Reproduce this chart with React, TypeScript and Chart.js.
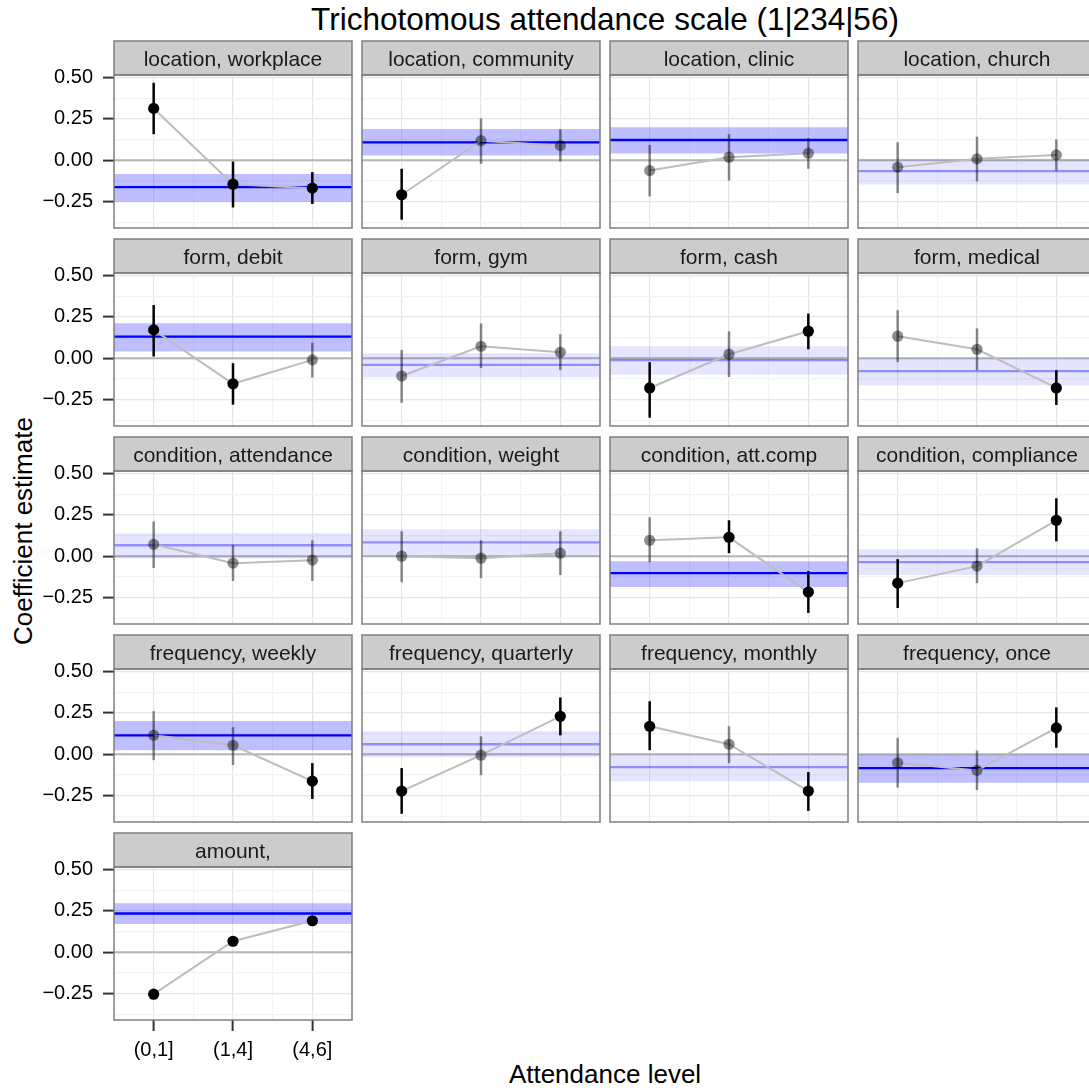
import React, { useEffect, useRef } from "react";
import { Chart, registerables } from "chart.js";

Chart.register(...registerables);

const FONT = '"Liberation Sans", Arial, Helvetica, sans-serif';

const TITLE = "Trichotomous attendance scale (1|234|56)";
const X_TITLE = "Attendance level";
const Y_TITLE = "Coefficient estimate";

const PANEL_LABELS = [
  "location, workplace", "location, community", "location, clinic", "location, church",
  "form, debit", "form, gym", "form, cash", "form, medical",
  "condition, attendance", "condition, weight", "condition, att.comp", "condition, compliance",
  "frequency, weekly", "frequency, quarterly", "frequency, monthly", "frequency, once",
  "amount,",
];
const LEVELS = ["(0,1]", "(1,4]", "(4,6]"];
const LEVEL_POS = [1, 2, 3];

const ESTIMATE = [
  [0.313, -0.145, -0.169],
  [-0.209, 0.118, 0.088],
  [-0.063, 0.018, 0.042],
  [-0.042, 0.008, 0.032],
  [0.171, -0.155, -0.010],
  [-0.108, 0.072, 0.036],
  [-0.180, 0.024, 0.163],
  [0.133, 0.054, -0.180],
  [0.072, -0.042, -0.024],
  [0.000, -0.012, 0.018],
  [0.096, 0.114, -0.217],
  [-0.163, -0.060, 0.217],
  [0.114, 0.054, -0.163],
  [-0.223, -0.006, 0.229],
  [0.169, 0.060, -0.223],
  [-0.052, -0.098, 0.159],
  [-0.254, 0.066, 0.190],
];
const CI_LOW = [
  [0.157, -0.286, -0.265],
  [-0.360, -0.022, -0.008],
  [-0.219, -0.123, -0.052],
  [-0.199, -0.129, -0.063],
  [0.010, -0.281, -0.117],
  [-0.270, -0.060, -0.072],
  [-0.360, -0.114, 0.054],
  [-0.024, -0.072, -0.283],
  [-0.072, -0.150, -0.150],
  [-0.157, -0.133, -0.114],
  [-0.036, 0.018, -0.343],
  [-0.313, -0.163, 0.090],
  [-0.036, -0.066, -0.271],
  [-0.360, -0.127, 0.114],
  [0.024, -0.054, -0.343],
  [-0.202, -0.217, 0.039],
  [-0.262, 0.058, 0.182],
];
const CI_HIGH = [
  [0.468, -0.008, -0.072],
  [-0.052, 0.253, 0.187],
  [0.092, 0.158, 0.134],
  [0.108, 0.142, 0.126],
  [0.321, -0.030, 0.094],
  [0.050, 0.210, 0.145],
  [-0.024, 0.163, 0.270],
  [0.290, 0.180, -0.072],
  [0.210, 0.066, 0.096],
  [0.150, 0.096, 0.150],
  [0.235, 0.217, -0.090],
  [-0.018, 0.048, 0.350],
  [0.260, 0.163, -0.054],
  [-0.084, 0.108, 0.343],
  [0.320, 0.169, -0.108],
  [0.099, 0.022, 0.283],
  [-0.246, 0.074, 0.198],
];
const SIGNIFICANT = [
  [1, 1, 1], [1, 0, 0], [0, 0, 0], [0, 0, 0],
  [1, 1, 0], [0, 0, 0], [1, 0, 1], [0, 0, 1],
  [0, 0, 0], [0, 0, 0], [0, 1, 1], [1, 0, 1],
  [0, 0, 1], [1, 0, 1], [1, 0, 1], [0, 0, 1],
  [1, 1, 1],
];
const POOLED = [-0.163, 0.108, 0.122, -0.066, 0.130, -0.040, -0.012, -0.078, 0.066, 0.084, -0.102, -0.036, 0.114, 0.060, -0.078, -0.084, 0.234];
const POOLED_LOW = [-0.251, 0.028, 0.040, -0.147, 0.040, -0.115, -0.100, -0.163, -0.012, 0.000, -0.187, -0.114, 0.024, -0.018, -0.163, -0.173, 0.170];
const POOLED_HIGH = [-0.084, 0.189, 0.199, 0.008, 0.211, 0.030, 0.072, 0.000, 0.138, 0.163, -0.030, 0.042, 0.200, 0.139, 0.000, -0.004, 0.296];
const POOLED_SIG = [1, 1, 1, 0, 1, 0, 0, 0, 0, 0, 1, 0, 1, 0, 0, 1, 1];

const Y_MAJOR = [-0.25, 0, 0.25, 0.5];
const Y_MINOR = [-0.375, -0.125, 0.125, 0.375];
const X_MINOR = [1.5, 2.5];
const X_MIN = 0.5;
const X_MAX = 3.5;
const Y_MIN = -0.41;
const Y_MAX = 0.515;

// layout
const NCOL = 4;
const PANEL_W = 238;
const PANEL_H = 153;
const STRIP_H = 34;
const PANEL_X0 = 114;
const PITCH_X = 248;
const PANEL_Y0 = 75;
const PITCH_Y = 198;
const M = 2;
const Y_AXIS_W = 84;
const X_AXIS_H = 50;
const TICK_LEN = 11;

const GRID_MAJOR = "#e6e6e6";
const GRID_MINOR = "#f3f3f3";
const BORDER = "#7f7f7f";
const STRIP_FILL = "#cccccc";
const TICK_COLOR = "#333333";

const near = (a: number, b: number) => Math.abs(a - b) < 1e-9;
const isMajorY = (v: any) => typeof v === "number" && Y_MAJOR.some((m) => near(m, v));
const isMajorX = (v: any) => typeof v === "number" && LEVEL_POS.some((m) => near(m, v));
const fmtY = (v: number) => (v < 0 ? "\u2212" + Math.abs(v).toFixed(2) : v.toFixed(2));

const zeroPad = (s: any) => {
  s.paddingTop = 0;
  s.paddingBottom = 0;
  s.paddingLeft = 0;
  s.paddingRight = 0;
};

function FacetPanel({ idx }: { idx: number }) {
  const ref = useRef<HTMLCanvasElement | null>(null);
  const col = idx % NCOL;
  const row = Math.floor(idx / NCOL);
  const showY = col === 0;
  const showX = idx === PANEL_LABELS.length - 1;
  const panelLeft = PANEL_X0 + col * PITCH_X;
  const panelTop = PANEL_Y0 + row * PITCH_Y;
  const leftSpace = showY ? Y_AXIS_W : M;
  const bottomSpace = showX ? X_AXIS_H : M;
  const cw = leftSpace + PANEL_W + M;
  const ch = M + STRIP_H + PANEL_H + bottomSpace;
  const cl = panelLeft - leftSpace;
  const ct = panelTop - STRIP_H - M;

  useEffect(() => {
    const canvas = ref.current;
    if (!canvas) return;
    const est = ESTIMATE[idx];
    const lo = CI_LOW[idx];
    const hi = CI_HIGH[idx];
    const sig = SIGNIFICANT[idx];
    const pts = LEVEL_POS.map((x, j) => ({ x, y: est[j] }));
    const ptColor = sig.map((s) => (s ? "#000000" : "rgba(0,0,0,0.45)"));
    const pSig = POOLED_SIG[idx] === 1;

    const datasets: any[] = [];
    datasets.push({
      data: pts, showLine: false, pointRadius: 5.6, pointBackgroundColor: ptColor,
      pointBorderWidth: 0, pointBorderColor: "rgba(0,0,0,0)", order: 0,
    });
    LEVEL_POS.forEach((x, j) => {
      datasets.push({
        data: [{ x, y: lo[j] }, { x, y: hi[j] }], borderColor: ptColor[j], borderWidth: 2.5,
        pointRadius: 0, fill: false, order: 1,
      });
    });
    datasets.push({ data: pts, borderColor: "#bdbdbd", borderWidth: 2, pointRadius: 0, fill: false, order: 2 });
    datasets.push({
      data: [{ x: X_MIN, y: POOLED[idx] }, { x: X_MAX, y: POOLED[idx] }],
      borderColor: pSig ? "#0000ff" : "rgba(0,0,255,0.38)", borderWidth: 2.3, pointRadius: 0, fill: false, order: 3,
    });
    datasets.push({
      data: [{ x: X_MIN, y: POOLED_HIGH[idx] }, { x: X_MAX, y: POOLED_HIGH[idx] }],
      borderWidth: 0, borderColor: "rgba(0,0,0,0)",
      backgroundColor: pSig ? "rgba(0,0,255,0.25)" : "rgba(0,0,255,0.1)",
      fill: { value: POOLED_LOW[idx] }, pointRadius: 0, order: 4,
    });
    datasets.push({
      data: [{ x: X_MIN, y: 0 }, { x: X_MAX, y: 0 }], borderColor: "#b5b5b5", borderWidth: 2,
      pointRadius: 0, fill: false, order: 5,
    });

    const decor = {
      id: "facetDecor",
      beforeDraw(chart: any) {
        const { ctx, chartArea: a } = chart;
        ctx.save();
        const top = a.top - STRIP_H;
        ctx.fillStyle = STRIP_FILL;
        ctx.fillRect(a.left, top, a.right - a.left, STRIP_H);
        ctx.strokeStyle = BORDER;
        ctx.lineWidth = 1.5;
        ctx.strokeRect(a.left, top, a.right - a.left, STRIP_H);
        ctx.fillStyle = "#1a1a1a";
        ctx.font = `21px ${FONT}`;
        ctx.textAlign = "center";
        ctx.textBaseline = "alphabetic";
        ctx.fillText(PANEL_LABELS[idx], (a.left + a.right) / 2, top + 25);
        ctx.restore();
      },
      afterDraw(chart: any) {
        const { ctx, chartArea: a } = chart;
        ctx.save();
        ctx.strokeStyle = BORDER;
        ctx.lineWidth = 1.5;
        ctx.strokeRect(a.left, a.top, a.right - a.left, a.bottom - a.top);
        ctx.restore();
      },
    };

    const chart = new Chart(canvas, {
      type: "line",
      data: { datasets },
      plugins: [decor],
      options: {
        responsive: false,
        animation: false,
        devicePixelRatio: 1,
        events: [],
        layout: { autoPadding: false, padding: { top: M + STRIP_H, right: M, left: 0, bottom: 0 } },
        plugins: { legend: { display: false }, tooltip: { enabled: false }, title: { display: false } },
        scales: {
          x: {
            type: "linear",
            min: X_MIN,
            max: X_MAX,
            afterBuildTicks: (s: any) => {
              s.ticks = [...LEVEL_POS, ...X_MINOR].sort((a, b) => a - b).map((v) => ({ value: v }));
            },
            afterFit: (s: any) => { s.height = bottomSpace; zeroPad(s); },
            border: { display: false },
            grid: {
              color: (c: any) => (isMajorX(c.tick?.value) ? GRID_MAJOR : GRID_MINOR),
              lineWidth: 1.2,
              drawTicks: showX,
              tickLength: TICK_LEN,
              tickWidth: 2,
              tickColor: (c: any) => (isMajorX(c.tick?.value) ? TICK_COLOR : "rgba(0,0,0,0)"),
            },
            ticks: {
              display: showX,
              autoSkip: false,
              maxRotation: 0,
              padding: 7,
              color: "#000",
              font: { family: FONT, size: 20 },
              callback: (v: any) => {
                const k = LEVEL_POS.findIndex((p) => near(p, Number(v)));
                return k >= 0 ? LEVELS[k] : "";
              },
            },
          },
          y: {
            type: "linear",
            min: Y_MIN,
            max: Y_MAX,
            afterBuildTicks: (s: any) => {
              s.ticks = [...Y_MAJOR, ...Y_MINOR].sort((a, b) => a - b).map((v) => ({ value: v }));
            },
            afterFit: (s: any) => { s.width = leftSpace; zeroPad(s); },
            border: { display: false },
            grid: {
              color: (c: any) => (isMajorY(c.tick?.value) ? GRID_MAJOR : GRID_MINOR),
              lineWidth: 1.2,
              drawTicks: showY,
              tickLength: TICK_LEN,
              tickWidth: 2,
              tickColor: (c: any) => (isMajorY(c.tick?.value) ? TICK_COLOR : "rgba(0,0,0,0)"),
            },
            ticks: {
              display: showY,
              autoSkip: false,
              padding: 10,
              color: "#000",
              font: { family: FONT, size: 20 },
              callback: (v: any) => (isMajorY(Number(v)) ? fmtY(Number(v)) : ""),
            },
          },
        },
      } as any,
    });
    return () => chart.destroy();
  }, [idx]);

  return (
    <canvas
      ref={ref}
      width={cw}
      height={ch}
      style={{ position: "absolute", left: cl, top: ct, width: cw, height: ch }}
    />
  );
}

export default function App() {
  const panelsLeft = PANEL_X0;
  const panelsWidth = PITCH_X * (NCOL - 1) + PANEL_W;
  const nRows = Math.ceil(PANEL_LABELS.length / NCOL);
  const gridTop = PANEL_Y0 - STRIP_H;
  const gridBottom = PANEL_Y0 + (nRows - 1) * PITCH_Y + PANEL_H;
  const yMid = (gridTop + gridBottom) / 2;
  return (
    <div
      style={{
        position: "fixed", left: 0, top: 0, width: 1089, height: 1088, overflow: "hidden",
        background: "#ffffff", fontFamily: FONT, color: "#000",
      }}
    >
      <div
        style={{
          position: "absolute", left: panelsLeft, width: panelsWidth, top: 4, fontSize: 31.5,
          lineHeight: "31.5px", textAlign: "center", whiteSpace: "nowrap",
        }}
      >
        {TITLE}
      </div>
      <div
        style={{
          position: "absolute", left: panelsLeft, width: panelsWidth, top: 1061, fontSize: 26,
          lineHeight: "26px", textAlign: "center", whiteSpace: "nowrap",
        }}
      >
        {X_TITLE}
      </div>
      <div
        style={{
          position: "absolute", left: 23 - 300, top: yMid - 13, width: 600, height: 26, fontSize: 26,
          lineHeight: "26px", textAlign: "center", whiteSpace: "nowrap", transform: "rotate(-90deg)",
        }}
      >
        {Y_TITLE}
      </div>
      {PANEL_LABELS.map((_, i) => (
        <FacetPanel key={i} idx={i} />
      ))}
    </div>
  );
}
